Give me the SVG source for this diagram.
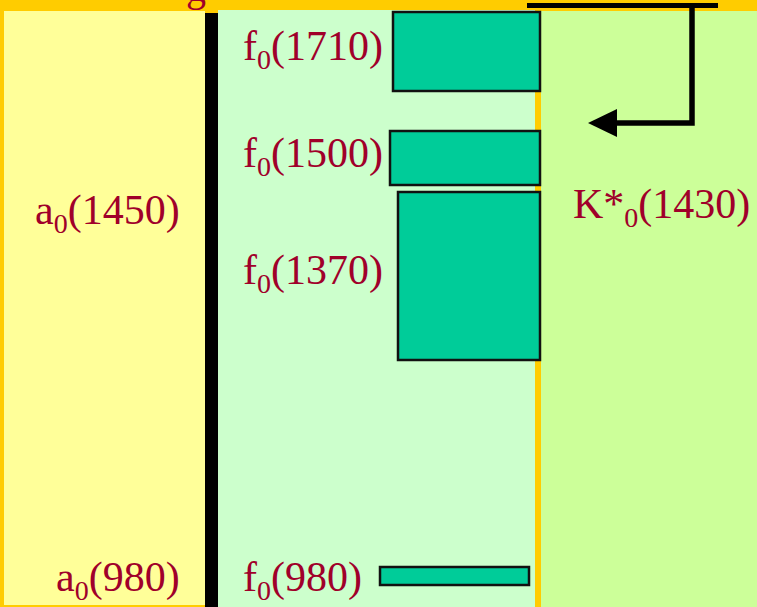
<svg xmlns="http://www.w3.org/2000/svg" width="757" height="607" viewBox="0 0 757 607">
<defs>
<style>
text{font-family:'Liberation Serif','DejaVu Serif',serif;font-size:42px;fill:#A0002A}
.sub{font-size:28px}
.box{fill:#00CC99;stroke:#111;stroke-width:2.5}
</style>
</defs>
<rect x="0" y="0" width="757" height="607" fill="#FFCC00"/>
<g id="title">
<text x="186" y="1" font-family="Liberation Serif, serif" style="font-size:40px">g</text>
<rect x="527" y="3" width="191" height="5" fill="#000"/>
</g>
<g id="panels">
<rect x="4" y="11" width="201" height="594" fill="#FFFF99"/>
<rect x="218" y="10" width="317" height="597" fill="#CCFFCC"/>
<rect x="541" y="11" width="216" height="596" fill="#CCFF99"/>
<rect x="205" y="13" width="13" height="594" fill="#000"/>
</g>
<g id="f0-1710">
<rect class="box" x="393" y="12" width="147" height="79"/>
<text x="243" y="60" font-family="Liberation Serif, serif">f<tspan class="sub" dy="9">0</tspan><tspan dy="-9">(1710)</tspan></text>
</g>
<g id="f0-1500">
<rect class="box" x="390" y="131" width="150" height="54"/>
<text x="243" y="167" font-family="Liberation Serif, serif">f<tspan class="sub" dy="9">0</tspan><tspan dy="-9">(1500)</tspan></text>
</g>
<g id="f0-1370">
<rect class="box" x="398" y="192" width="142" height="168"/>
<text x="243" y="284" font-family="Liberation Serif, serif">f<tspan class="sub" dy="9">0</tspan><tspan dy="-9">(1370)</tspan></text>
</g>
<g id="f0-980">
<rect class="box" x="380" y="567" width="149" height="18"/>
<text x="243" y="591" font-family="Liberation Serif, serif">f<tspan class="sub" dy="9">0</tspan><tspan dy="-9">(980)</tspan></text>
</g>
<g id="a0-1450">
<text x="35" y="224" font-family="Liberation Serif, serif">a<tspan class="sub" dy="9">0</tspan><tspan dy="-9">(1450)</tspan></text>
</g>
<g id="a0-980">
<text x="56" y="591" font-family="Liberation Serif, serif">a<tspan class="sub" dy="9">0</tspan><tspan dy="-9">(980)</tspan></text>
</g>
<g id="k0-1430">
<text x="573" y="218" font-family="Liberation Serif, serif">K*<tspan class="sub" dy="9">0</tspan><tspan dy="-9">(1430)</tspan></text>
</g>
<g id="connectors">
<polyline points="692,3 692,123 617,123" fill="none" stroke="#000" stroke-width="5.5"/>
<polygon points="588,123 617,109 617,137" fill="#000"/>
</g>
</svg>
